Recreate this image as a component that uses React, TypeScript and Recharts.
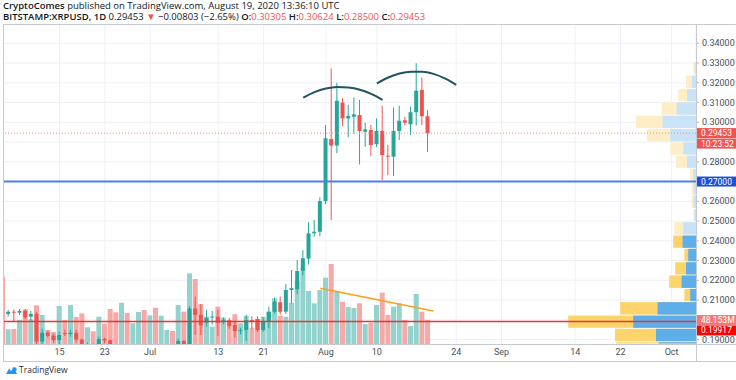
import React from 'react';
import {
  ComposedChart,
  Bar,
  Line,
  XAxis,
  YAxis,
  CartesianGrid,
  ReferenceLine,
  ReferenceArea,
  Cell,
} from 'recharts';

// ---------- categories ----------
const startDate = '2020-06-05';
const dayCount = 122; // Jun 5 .. Oct 4
const tickDates = [
  '2020-06-15', '2020-06-23', '2020-07-01', '2020-07-13', '2020-07-21', '2020-08-01',
  '2020-08-10', '2020-08-24', '2020-09-01', '2020-09-14', '2020-09-22', '2020-10-01',
];
const monthNames = ['Jan', 'Feb', 'Mar', 'Apr', 'May', 'Jun', 'Jul', 'Aug', 'Sep', 'Oct', 'Nov', 'Dec'];
const priceTicks = [0.19, 0.21, 0.22, 0.23, 0.24, 0.25, 0.26, 0.28, 0.3, 0.31, 0.32, 0.33, 0.34];
const gridPrices = [0.19, 0.2, 0.21, 0.22, 0.23, 0.24, 0.25, 0.26, 0.27, 0.28, 0.29, 0.3, 0.31, 0.32, 0.33, 0.34];

// ---------- daily OHLC (Jun 5 .. Aug 19) ----------
const opens = [
  null, 0.2029, 0.2041, 0.2036, 0.2045, 0.2016, 0.2030, 0.1890, 0.1935, 0.1920, 0.1897, 0.1933, 0.1928,
  0.1934, 0.1900, 0.1870, 0.1876, 0.1865, 0.1903, 0.1896, 0.1800, 0.1775, 0.1780, 0.1730, 0.1760, 0.1775,
  0.1750, 0.1775, 0.1750, 0.1760, 0.1780, 0.1770, 0.1893, 0.1850, 0.2057, 0.2025, 0.1985, 0.2012, 0.2016,
  0.1994, 0.1998, 0.1974, 0.1943, 0.1948, 0.1999, 0.2004, 0.1948, 0.1994, 0.2041, 0.2089, 0.2041, 0.2151,
  0.2155, 0.2249, 0.2310, 0.2438, 0.2446,
  0.2601, 0.2915, 0.2882, 0.3100, 0.3020, 0.3028, 0.3037, 0.2952, 0.2961, 0.2889, 0.2956, 0.2831, 0.2826,
  0.2956, 0.3010, 0.2990, 0.3051, 0.3164, 0.30305,
];
const highs = [
  null, 0.2050, 0.2053, 0.2055, 0.2055, 0.2045, 0.2041, 0.1955, 0.1945, 0.1930, 0.1940, 0.1950, 0.1950,
  0.1950, 0.1905, 0.1885, 0.1880, 0.1915, 0.1910, 0.1900, 0.1810, 0.1800, 0.1790, 0.1770, 0.1785, 0.1780,
  0.1800, 0.1780, 0.1770, 0.1790, 0.1785, 0.1905, 0.1897, 0.2068, 0.2117, 0.2080, 0.2050, 0.2045, 0.2050,
  0.2012, 0.2010, 0.1990, 0.1960, 0.2025, 0.2018, 0.2018, 0.2012, 0.2066, 0.2113, 0.2118, 0.2181, 0.2252,
  0.2303, 0.2353, 0.2494, 0.2505, 0.2620,
  0.2986, 0.3273, 0.3200, 0.3122, 0.3088, 0.3125, 0.3113, 0.2998, 0.2986, 0.3020, 0.3084, 0.2885, 0.3075,
  0.3084, 0.3028, 0.3079, 0.3299, 0.3226, 0.30624,
];
const lows = [
  null, 0.2016, 0.1990, 0.2025, 0.2005, 0.1996, 0.1860, 0.1875, 0.1910, 0.1885, 0.1840, 0.1918, 0.1915,
  0.1885, 0.1855, 0.1850, 0.1850, 0.1860, 0.1880, 0.1780, 0.1740, 0.1740, 0.1710, 0.1720, 0.1740, 0.1740,
  0.1740, 0.1730, 0.1740, 0.1750, 0.1740, 0.1765, 0.1830, 0.1840, 0.1923, 0.1923, 0.1965, 0.1975, 0.1919,
  0.1977, 0.1955, 0.1911, 0.1925, 0.1894, 0.1955, 0.1938, 0.1940, 0.1958, 0.2031, 0.2026, 0.2030, 0.2083,
  0.2130, 0.2225, 0.2280, 0.2421, 0.2424,
  0.2585, 0.2505, 0.2843, 0.2980, 0.2924, 0.2941, 0.2787, 0.2876, 0.2829, 0.2875, 0.2705, 0.2733, 0.2728,
  0.2910, 0.2985, 0.2936, 0.2983, 0.2986, 0.2850,
];
const closes = [
  null, 0.2041, 0.2038, 0.2045, 0.2013, 0.2030, 0.1890, 0.1935, 0.1919, 0.1897, 0.1923, 0.1928, 0.1934,
  0.1900, 0.1870, 0.1876, 0.1865, 0.1903, 0.1896, 0.1800, 0.1775, 0.1780, 0.1730, 0.1760, 0.1775, 0.1750,
  0.1775, 0.1750, 0.1760, 0.1780, 0.1770, 0.1893, 0.1850, 0.2057, 0.2025, 0.1972, 0.2010, 0.2016, 0.1985,
  0.1998, 0.1969, 0.1943, 0.1948, 0.1999, 0.1992, 0.1948, 0.1994, 0.2041, 0.2092, 0.2041, 0.2151, 0.2160,
  0.2247, 0.2312, 0.2438, 0.2446, 0.2601,
  0.2919, 0.2882, 0.3109, 0.3020, 0.3032, 0.3040, 0.2956, 0.2964, 0.2885, 0.2956, 0.2834, 0.2826, 0.2956,
  0.3008, 0.2998, 0.3051, 0.3160, 0.3031, 0.29453,
];
// volume, millions
const volumes = [
  135.0, 29.5, 30.1, 48.1, 69.6, 49.5, 77.6, 58.2, 28.1, 24.1, 76.2, 48.1, 78.2, 54.2, 61.6, 33.5, 25.5,
  54.8, 40.7, 70.2, 63.6, 82.8, 62.2, 41.5, 64.2, 68.2,
  57.6, 72.8, 56.8, 28.1, 26.1, 78.2, 64.8, 141.8, 130.4, 80.2, 54.8, 34.7, 74.8, 52.8, 40.1, 59.6, 41.5,
  56.2, 32.7, 50.2, 54.8, 64.8, 91.7, 56.8, 54.8, 82.8, 126.4, 152.5, 106.3, 81.6, 108.3,
  133.0, 160.5, 106.3, 84.9, 74.2, 72.2, 81.6, 40.1, 42.7, 78.2, 102.9, 58.2, 74.8, 81.6, 48.1, 36.1,
  100.3, 64.8, 48.153,
];

// ---------- drawings ----------
const arc1Dates = ['2020-07-28', '2020-07-30', '2020-08-01', '2020-08-03', '2020-08-05', '2020-08-07', '2020-08-09', '2020-08-11'];
const arc1Prices = [0.3125, 0.3153, 0.3171, 0.3179, 0.3176, 0.3165, 0.3144, 0.3114];
const arc2Dates = ['2020-08-10', '2020-08-12', '2020-08-14', '2020-08-16', '2020-08-18', '2020-08-20', '2020-08-22', '2020-08-24'];
const arc2Prices = [0.3197, 0.3227, 0.3247, 0.3256, 0.3256, 0.3245, 0.3222, 0.3190];
const trendDates = ['2020-07-31', '2020-08-20'];
const trendVolumes = [111.7, 66.2];

// ---------- levels ----------
const lastPrice = 0.29453;
const supportPrice = 0.27;
const redLevel = 0.19917;
const lastVolume = 48.153;
const priceDomain = [0.18775, 0.34977];
const volumeDomain = [0, 642];

// ---------- volume profile (rows from bottom) ----------
const vpEdges = [
  0.1822, 0.1889, 0.1957, 0.2024, 0.2092, 0.2159, 0.2227, 0.2294, 0.2362, 0.2429, 0.2497, 0.2564,
  0.2632, 0.2699, 0.2767, 0.2834, 0.2901, 0.2969, 0.3036, 0.3104, 0.3171, 0.3239, 0.3306,
];
const vpUp = [187, 200, 314, 192, 29, 72, 50, 39, 67, 64, 8, 13, 12, 14, 45, 64, 129, 167, 97, 45, 20, 5];
const vpDown = [213, 205, 325, 187, 29, 62, 54, 19, 47, 45, 5, 9, 10, 15, 55, 65, 117, 133, 75, 44, 30, 9];
const valueAreaTop = 0.2429;
const vpDomain = [0, 3480];

// ---------- colours ----------
const UP = '#26a69a';
const DOWN = '#ef5350';
const UP_VOL = '#92d3cd';
const DOWN_VOL = '#f7a9a8';
const VP_BLUE = '#5eaeea';
const VP_YELLOW = '#fdd46b';
const VP_BLUE_LIGHT = '#c8e3f8';
const VP_YELLOW_LIGHT = '#fdeec8';
const AXIS_TEXT = '#4a4e59';
const FONT = 'Roboto, "Noto Sans", sans-serif';

function buildDates(): string[] {
  const [y, m, d] = startDate.split('-').map(Number);
  const t0 = Date.UTC(y, m - 1, d);
  const out: string[] = [];
  for (let i = 0; i < dayCount; i++) out.push(new Date(t0 + i * 86400000).toISOString().slice(0, 10));
  return out;
}

const dates = buildDates();
const data = dates.map((date, i) => {
  const o = opens[i] ?? null;
  const h = highs[i] ?? null;
  const l = lows[i] ?? null;
  const c = closes[i] ?? null;
  const a1 = arc1Dates.indexOf(date);
  const a2 = arc2Dates.indexOf(date);
  return {
    date,
    o,
    h,
    l,
    c,
    hl: h != null && l != null ? [l, h] : null,
    vol: volumes[i] ?? null,
    up: o != null && c != null && c >= o,
    arc1: a1 >= 0 ? arc1Prices[a1] : null,
    arc2: a2 >= 0 ? arc2Prices[a2] : null,
    vpBase: 0,
  };
});

const formatTick = (d: string) => {
  const parts = d.split('-');
  return parts[2] === '01' ? monthNames[Number(parts[1]) - 1] : String(Number(parts[2]));
};

const CandleShape = (props: any) => {
  const { x, y, width, height, payload } = props;
  if (!payload || payload.o == null || !Number.isFinite(y) || !Number.isFinite(height)) return null;
  const { o, h, l, c } = payload;
  const k = h > l ? height / (h - l) : 0;
  const yo = y + (h - o) * k;
  const yc = y + (h - c) * k;
  const color = c >= o ? UP : DOWN;
  const cx = x + width / 2;
  const top = Math.min(yo, yc);
  const bh = Math.max(1, Math.abs(yo - yc));
  return (
    <g>
      <line x1={cx} x2={cx} y1={y} y2={y + height} stroke={color} strokeWidth={1} />
      <rect x={cx - 2} y={top} width={4} height={bh} fill={color} />
    </g>
  );
};

const RowShape = (props: any) => {
  const { x, y, width, height, fill } = props;
  if (![x, y, width, height].every(Number.isFinite)) return null;
  const yy = Math.min(y, y + height);
  const hh = Math.abs(height);
  return <rect x={Math.min(x, x + width)} y={yy + 0.5} width={Math.abs(width)} height={Math.max(0, hh - 1)} fill={fill} />;
};

const makeTag = (lines: { text: string; bg: string; fg?: string }[], dy = 0) => (props: any) => {
  const vb = props.viewBox || {};
  const right = (vb.x ?? 0) + (vb.width ?? 0);
  const cy = (vb.y ?? 0) + dy;
  return (
    <g>
      {lines.map((ln, i) => (
        <g key={i}>
          <rect x={right} y={cy - 5 + i * 10.5} width={40} height={10} fill={ln.bg} />
          <text
            x={right + 5}
            y={cy + i * 10.5}
            dy="0.35em"
            fontSize={8.5}
            fontFamily={FONT}
            fill={ln.fg || '#ffffff'}
          >
            {ln.text}
          </text>
        </g>
      ))}
    </g>
  );
};

const line = (style: React.CSSProperties) => (
  <div style={{ position: 'absolute', background: '#c6c9d0', ...style }} />
);

export default function App() {
  const profileAreas: React.ReactNode[] = [];
  vpUp.forEach((u, i) => {
    // only the part of each row that lies inside the visible price range
    const lo = Math.max(vpEdges[i], priceDomain[0]);
    const hi = Math.min(vpEdges[i + 1], priceDomain[1]);
    if (hi <= lo) return;
    const inVA = vpEdges[i] < valueAreaTop;
    profileAreas.push(
      <ReferenceArea
        key={`vd${i}`}
        xAxisId="vp"
        yAxisId="price"
        x1={0}
        x2={u + vpDown[i]}
        y1={lo}
        y2={hi}
        ifOverflow="hidden"
        fill={inVA ? VP_YELLOW : VP_YELLOW_LIGHT}
        fillOpacity={1}
        shape={RowShape}
      />,
    );
    profileAreas.push(
      <ReferenceArea
        key={`vu${i}`}
        xAxisId="vp"
        yAxisId="price"
        x1={0}
        x2={u}
        y1={lo}
        y2={hi}
        ifOverflow="hidden"
        fill={inVA ? VP_BLUE : VP_BLUE_LIGHT}
        fillOpacity={1}
        shape={RowShape}
      />,
    );
  });

  return (
    <div style={{ position: 'absolute', left: 0, top: 0, width: 736, height: 380, background: '#fff', overflow: 'hidden' }}>
      <div
        style={{
          position: 'absolute',
          left: 3,
          top: 0,
          fontFamily: '"Open Sans", sans-serif',
          fontSize: 9.5,
          lineHeight: '11px',
          color: '#131722',
          whiteSpace: 'nowrap',
        }}
      >
        <div>
          <span style={{ fontWeight: 600 }}>CryptoComes</span> published on TradingView.com, August 19, 2020 13:36:10 UTC
        </div>
        <div>
          <span style={{ fontWeight: 600 }}>BITSTAMP:XRPUSD, 1D</span> 0.29453{' '}
          <span style={{ color: DOWN }}>▼</span> −0.00803 (−2.65%){' '}
          <span style={{ fontWeight: 600 }}>O:</span><span style={{ color: DOWN }}>0.30305</span>{' '}
          <span style={{ fontWeight: 600 }}>H:</span><span style={{ color: DOWN }}>0.30624</span>{' '}
          <span style={{ fontWeight: 600 }}>L:</span><span style={{ color: DOWN }}>0.28500</span>{' '}
          <span style={{ fontWeight: 600 }}>C:</span><span style={{ color: DOWN }}>0.29453</span>
        </div>
      </div>

      <div style={{ position: 'absolute', left: 0, top: 0 }}>
        <ComposedChart
          width={736}
          height={380}
          data={data}
          margin={{ top: 24, right: 0, bottom: 18, left: 0 }}
          style={{ fontFamily: FONT }}
        >
          <CartesianGrid
            xAxisId="main"
            yAxisId="price"
            stroke="#eef1f7"
            horizontalValues={gridPrices}
          />
          <XAxis
            xAxisId="main"
            dataKey="date"
            ticks={tickDates}
            interval={0}
            tickFormatter={formatTick}
            tick={{ fontSize: 9, fill: AXIS_TEXT }}
            tickSize={0}
            tickMargin={5}
            axisLine={false}
            height={18}
            padding={{ left: 0, right: 4.6 }}
          />
          <XAxis xAxisId="vol" dataKey="date" hide padding={{ left: 0, right: 4.6 }} />
          <XAxis
            xAxisId="vp"
            dataKey="vpBase"
            type="number"
            domain={vpDomain}
            reversed
            hide
            allowDataOverflow
          />
          <YAxis
            yAxisId="price"
            orientation="right"
            width={40}
            domain={priceDomain}
            allowDataOverflow
            ticks={priceTicks}
            interval={0}
            tickFormatter={(v: number) => v.toFixed(5)}
            tick={{ fontSize: 9, fill: AXIS_TEXT }}
            tickSize={3}
            tickMargin={3}
            tickLine={{ stroke: '#b2b5be' }}
            axisLine={false}
          />
          <YAxis yAxisId="vol" domain={volumeDomain} allowDataOverflow hide />

          {profileAreas}

          <Bar xAxisId="vol" yAxisId="vol" dataKey="vol" barSize={5} isAnimationActive={false}>
            {data.map((d, i) => (
              <Cell key={i} fill={d.up ? UP_VOL : DOWN_VOL} />
            ))}
          </Bar>
          <Bar
            xAxisId="main"
            yAxisId="price"
            dataKey="hl"
            barSize={5}
            shape={CandleShape}
            isAnimationActive={false}
          />
          <Line
            xAxisId="main"
            yAxisId="price"
            dataKey="arc1"
            type="monotone"
            stroke="#1f5562"
            strokeWidth={2}
            dot={false}
            activeDot={false}
            connectNulls
            isAnimationActive={false}
          />
          <Line
            xAxisId="main"
            yAxisId="price"
            dataKey="arc2"
            type="monotone"
            stroke="#1f5562"
            strokeWidth={2}
            dot={false}
            activeDot={false}
            connectNulls
            isAnimationActive={false}
          />
          <ReferenceLine
            xAxisId="main"
            yAxisId="vol"
            segment={[
              { x: trendDates[0], y: trendVolumes[0] },
              { x: trendDates[1], y: trendVolumes[1] },
            ]}
            stroke="#ff9f1a"
            strokeWidth={1.5}
            ifOverflow="visible"
          />
          <ReferenceLine
            xAxisId="main"
            yAxisId="price"
            y={lastPrice}
            stroke="#f08a88"
            strokeDasharray="1 2"
            strokeWidth={1}
            label={makeTag([
              { text: '0.29453', bg: DOWN },
              { text: '10:23:52', bg: DOWN },
            ])}
          />
          <ReferenceLine
            xAxisId="main"
            yAxisId="price"
            y={supportPrice}
            stroke="#4f7fe8"
            strokeWidth={2}
            label={makeTag([{ text: '0.27000', bg: '#1e50d2' }])}
          />
          <ReferenceLine
            xAxisId="main"
            yAxisId="vol"
            y={lastVolume}
            stroke="none"
            strokeOpacity={0}
            label={makeTag([{ text: '48.153M', bg: '#f27977' }])}
          />
          <ReferenceLine
            xAxisId="main"
            yAxisId="price"
            y={redLevel}
            stroke="#eb3434"
            strokeWidth={1.5}
            label={makeTag([{ text: '0.19917', bg: '#ff0000' }], 9)}
          />
        </ComposedChart>
      </div>

      {/* frame */}
      <div style={{ position: 'absolute', left: 0, top: 24, width: 3, height: 320, background: '#fff' }} />
      {line({ left: 3, top: 24, width: 733, height: 1 })}
      {line({ left: 3, top: 24, width: 1, height: 338 })}
      {line({ left: 3, top: 361, width: 733, height: 1 })}
      {line({ left: 696, top: 24, width: 1, height: 338 })}
      {line({ left: 3, top: 344, width: 733, height: 1 })}

      {/* TradingView mark */}
      <svg style={{ position: 'absolute', left: 4, top: 365 }} width={14} height={10} viewBox="0 0 14 10">
        <path d="M2 9 L5.2 3.5 L7.2 6.2 L9.6 2 L13 9 Z" fill="#2196f3" />
        <circle cx="10.5" cy="4.5" r="2.2" fill="#2196f3" />
      </svg>
      <div
        style={{
          position: 'absolute',
          left: 19,
          top: 364,
          fontFamily: '"Open Sans", sans-serif',
          fontSize: 8.5,
          lineHeight: '12px',
          color: '#2a2e39',
        }}
      >
        TradingView
      </div>
    </div>
  );
}
